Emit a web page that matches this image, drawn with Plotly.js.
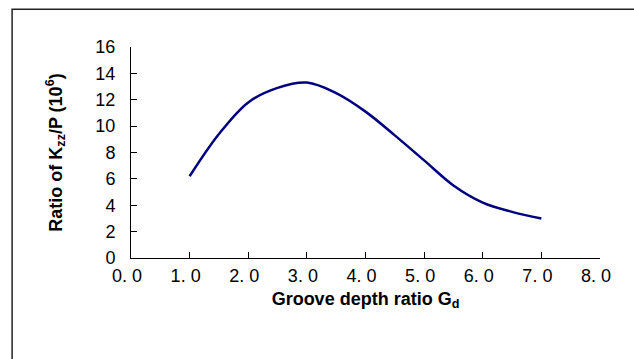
<!DOCTYPE html>
<html>
<head>
<meta charset="utf-8">
<script src="https://cdn.plot.ly/plotly-3.0.1.min.js"></script>
<style>
  html, body { margin: 0; padding: 0; background: #fff; }
  #chart { width: 634px; height: 359px; }
</style>
</head>
<body>
<div id="chart"></div>
<script>
// Data
const grooveDepth = [1.0, 1.5, 2.0, 2.5, 3.0, 3.5, 4.0, 4.5, 5.0, 5.5, 6.0, 6.5, 7.0];
const kzzRatio    = [6.2, 9.4, 11.8, 12.9, 13.3, 12.5, 11.1, 9.3, 7.4, 5.5, 4.2, 3.5, 3.0];

const xTickVals = [0, 1, 2, 3, 4, 5, 6, 7, 8];
const xTickText = ["0. 0", "1. 0", "2. 0", "3. 0", "4. 0", "5. 0", "6. 0", "7. 0", "8. 0"];
const yTickVals = [0, 2, 4, 6, 8, 10, 12, 14, 16];

const xTitle = "<b>Groove depth ratio G<sub>d</sub></b>";
const yTitle = "<b>Ratio of K<sub>zz</sub>/P (10<sup>6</sup>)</b>";

const font = "Liberation Sans";

const trace = {
  x: grooveDepth,
  y: kzzRatio,
  type: "scatter",
  mode: "lines",
  line: { color: "#000080", width: 2.5, shape: "spline", smoothing: 1 },
  hoverinfo: "skip"
};

const layout = {
  width: 634,
  height: 359,
  margin: { l: 131, r: 33.5, t: 47, b: 101, pad: 0 },
  paper_bgcolor: "#ffffff",
  plot_bgcolor: "#ffffff",
  showlegend: false,
  font: { family: font, size: 18, color: "#000" },
  xaxis: {
    range: [0, 8],
    tickvals: xTickVals,
    ticktext: xTickText,
    ticks: "inside",
    ticklen: 6,
    tickcolor: "#000",
    tickwidth: 1,
    showline: true,
    linecolor: "#000",
    linewidth: 1,
    showgrid: false,
    zeroline: false,
    ticklabelshift: -4,
    ticklabelstandoff: 1,
    tickfont: { family: font, size: 18, color: "#000" },
    title: { text: xTitle, font: { family: font, size: 18, color: "#000" }, standoff: 7 },
    fixedrange: true
  },
  yaxis: {
    range: [0, 16],
    tickvals: yTickVals,
    ticks: "inside",
    ticklen: 6,
    tickcolor: "#000",
    tickwidth: 1,
    showline: true,
    linecolor: "#000",
    linewidth: 1,
    showgrid: false,
    zeroline: false,
    ticklabelstandoff: 11,
    tickfont: { family: font, size: 18, color: "#000" },
    title: { text: yTitle, font: { family: font, size: 18, color: "#000" }, standoff: 28 },
    fixedrange: true
  },
  shapes: [{
    type: "rect",
    xref: "paper", yref: "paper",
    x0: -0.2535, x1: 1.3, y0: -0.7, y1: 1.179,
    line: { color: "#222", width: 1.5 },
    fillcolor: "rgba(0,0,0,0)",
    layer: "below"
  }]
};

Plotly.newPlot("chart", [trace], layout, { displayModeBar: false, staticPlot: true });
</script>
</body>
</html>
